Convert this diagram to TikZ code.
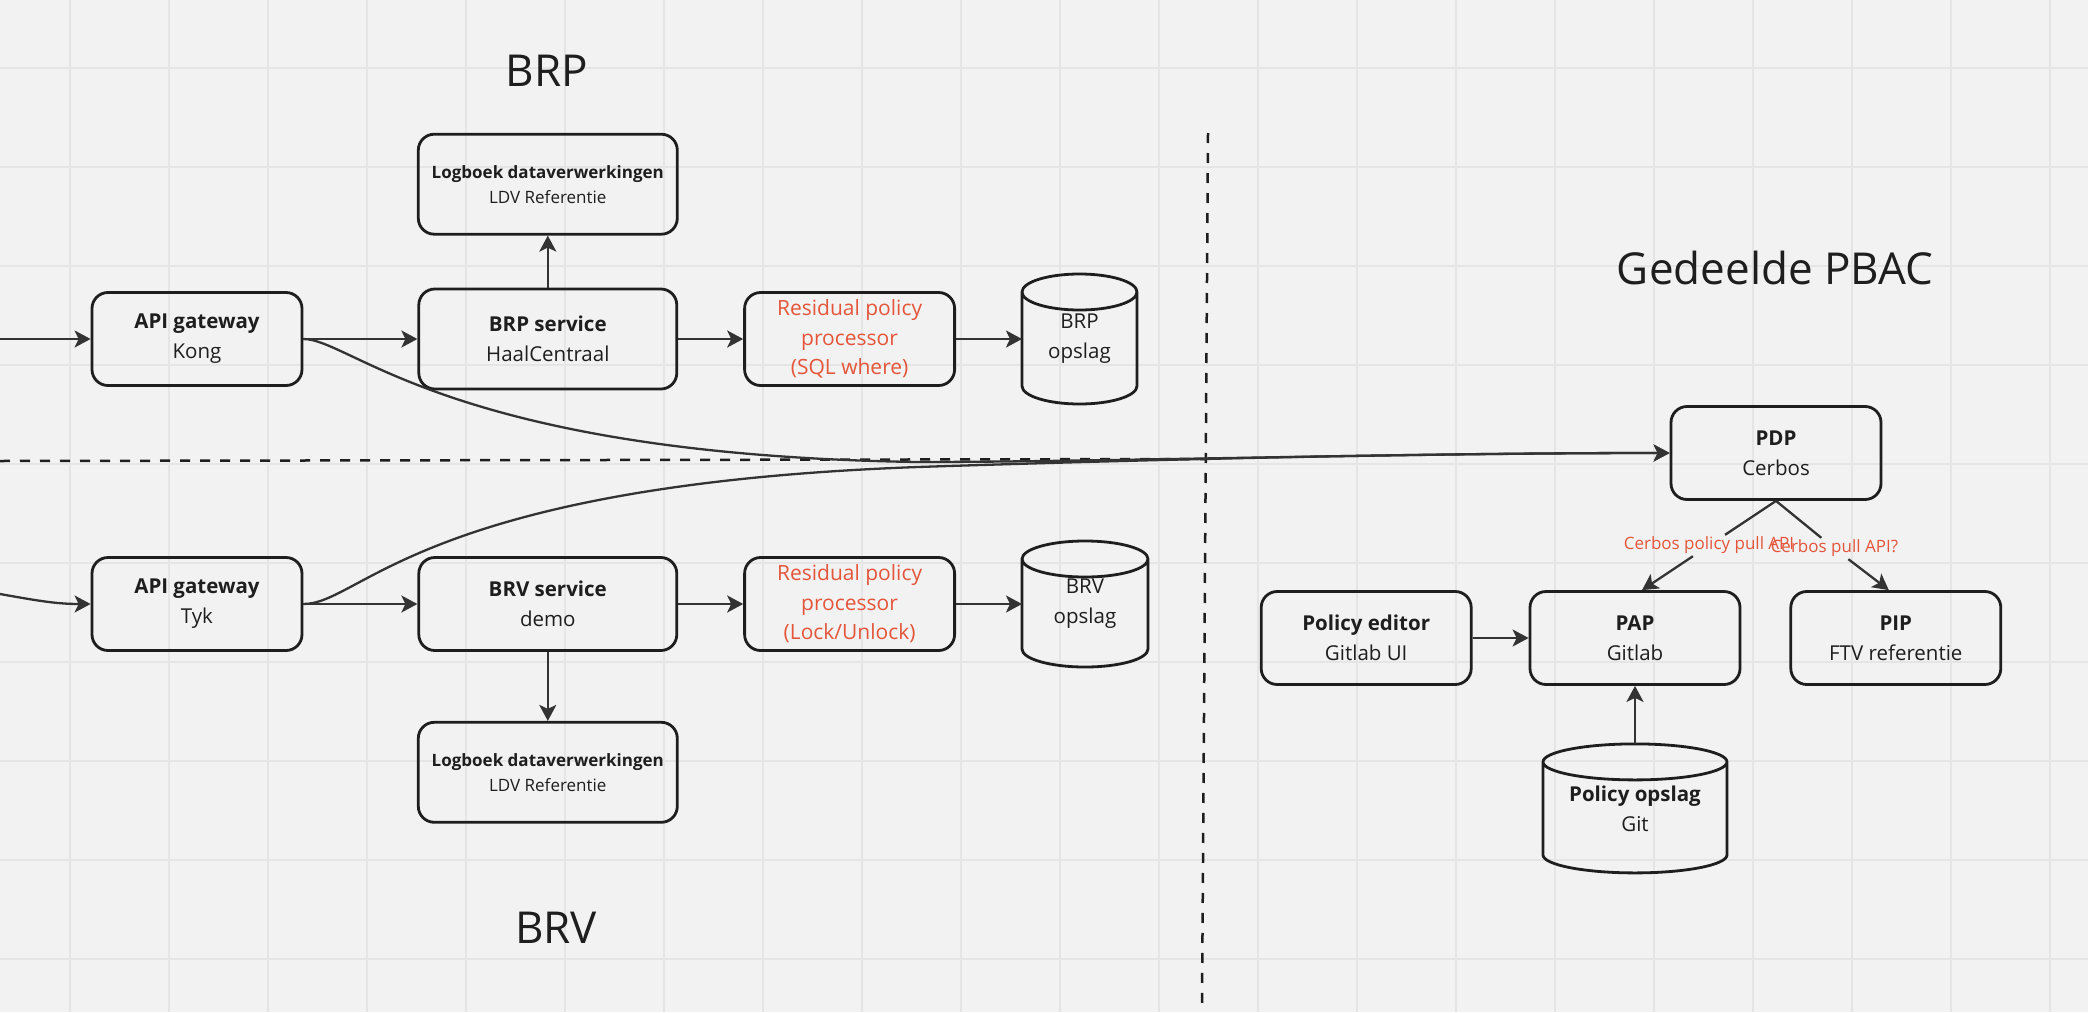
\documentclass[tikz,border=0pt]{standalone}
\usepackage{fontspec}
\setmainfont{Open Sans}
\usetikzlibrary{positioning, arrows.meta, calc}
\definecolor{bg}{HTML}{F2F2F2}
\definecolor{gridline}{HTML}{E5E5E5}
\definecolor{ink}{HTML}{1E1E1E}
\definecolor{wire}{HTML}{333333}
\definecolor{hint}{HTML}{E4553A}
\tikzset{
    block/.style={draw=ink, line width=2.8pt, rounded corners=16pt, minimum width=210pt,
      minimum height=93pt, inner sep=0pt, align=center, text=ink,
      font=\fontsize{20.5}{30}\selectfont},
    logbox/.style={block, minimum width=259pt, minimum height=100pt,
      font=\fontsize{17}{25}\selectfont},
    rpp/.style={block, text=hint, font=\fontsize{21}{29.5}\selectfont},
    store/.style={inner sep=0pt, outer sep=0pt, align=center, text=ink,
      font=\fontsize{20.5}{30}\selectfont},
    store outline/.style={draw=ink, line width=2.8pt, line join=round},
    title/.style={font=\fontsize{44}{50}\selectfont, text=ink},
    hint label/.style={font=\fontsize{17}{20}\selectfont, text=hint, inner sep=2pt},
    divider/.style={draw=ink, line width=2.5pt, dash pattern=on 10pt off 10pt},
    wire line/.style={draw=wire, line width=2.3pt},
    flow/.style={wire line, ->},
}

\begin{document}
\begin{tikzpicture}[x=1pt, y=-1pt, >={Stealth[length=16pt, width=17pt, inset=4pt]}]
    \useasboundingbox (0,0) rectangle (2088,1012);
    \fill[bg] (0,0) rectangle (2088,1012);
    \foreach \x in {70,169,...,2050}
      \draw[gridline, line width=2pt] (\x,0) -- (\x,1012);
    \foreach \y in {68,167,...,1000}
      \draw[gridline, line width=2pt] (0,\y) -- (2088,\y);

    % BRP
    \node[block] (kong) at (197,339) {\textbf{API gateway}\\Kong};
    \node[block, minimum width=258pt, minimum height=100pt, right=114pt of kong] (brpsvc) {\textbf{BRP service}\\HaalCentraal};
    \node[rpp, right=65pt of brpsvc] (brpres) {Residual policy\\processor\\(SQL where)};
    \node[store, minimum width=115pt, minimum height=130pt, right=66pt of brpres] (brpdb) {BRP\\opslag};
    \node[logbox, above=52pt of brpsvc] (brplog) {\textbf{Logboek dataverwerkingen}\\LDV Referentie};

    % BRV
    \node[block] (tyk) at (197,604) {\textbf{API gateway}\\Tyk};
    \node[block, minimum width=258pt, right=114pt of tyk] (brvsvc) {\textbf{BRV service}\\demo};
    \node[rpp, right=65pt of brvsvc] (brvres) {Residual policy\\processor\\(Lock/Unlock)};
    \node[store, minimum width=126pt, minimum height=126pt, right=66pt of brvres] (brvdb) {BRV\\opslag};
    \node[logbox, below=69pt of brvsvc] (brvlog) {\textbf{Logboek dataverwerkingen}\\LDV Referentie};

    % PBAC
    \node[block] (pdp) at (1776,453) {\textbf{PDP}\\Cerbos};
    \node[block] (pap) at (1635,638) {\textbf{PAP}\\Gitlab};
    \node[block, left=56pt of pap] (editor) {\textbf{Policy editor}\\Gitlab UI};
    \node[block, right=48pt of pap] (pip) {\textbf{PIP}\\FTV referentie};
    \node[store, minimum width=184pt, minimum height=129pt, below=58pt of pap] (poldb) {\textbf{Policy opslag}\\Git};

    % cylinder outlines round the store nodes
    \foreach \db in {brpdb, brvdb, poldb}
      \draw[store outline]
        let \p1 = ($(\db.north west)+(0,18)$), \p2 = ($(\db.south west)+(0,-18)$),
            \p3 = ($(\db.north east)+(0,18)$), \n1 = {(\x3-\x1)/2} in
        (\p1) -- (\p2) arc[start angle=180, end angle=360, x radius=\n1, y radius=18pt]
        -- (\p3) arc[start angle=0, end angle=360, x radius=\n1, y radius=18pt];

    \node[title] (brptitle) at (547,71) {BRP};
    \node[title] (brvtitle) at (556,928) {BRV};
    \node[title] (pbactitle) at (1775,268) {Gedeelde PBAC};

    \coordinate (hdivL) at (0,461);
    \coordinate (hdivR) at (1205,459);
    \coordinate (vdivT) at (1208,133);
    \coordinate (vdivB) at (1202,1006);
    \draw[divider] (hdivL) -- (hdivR);
    \draw[divider] (vdivT) -- (vdivB);

    \coordinate (inkong) at (0,339);
    \coordinate (intyk) at (0,594);
    \draw[flow] (inkong) -- (kong);
    \draw[flow] (intyk) to[out=-10, in=180] (tyk);

    \draw[flow] (kong) -- (brpsvc);
    \draw[flow] (brpsvc) -- (brpres);
    \draw[flow] (brpres) -- (brpdb);
    \draw[flow] (brpsvc) -- (brplog);
    \draw[flow] (tyk) -- (brvsvc);
    \draw[flow] (brvsvc) -- (brvres);
    \draw[flow] (brvres) -- (brvdb);
    \draw[flow] (brvsvc) -- (brvlog);

    \draw[flow] (kong.east) .. controls +(48,0) and (450,455) .. (918,462)
      .. controls (1100,462) and (1400,453) .. (pdp.west);
    \draw[flow] (tyk.east) .. controls +(58,0) and (420,485) .. (918,467)
      .. controls (1100,461) and (1400,453) .. (pdp.west);

    \node[hint label] (pull1) at ($(pdp.south)!0.5!([xshift=7pt]pap.north)$) {Cerbos policy pull API};
    \node[hint label] (pull2) at ($(pdp.south)!0.5!([xshift=-7pt]pip.north)+(2,3)$) {Cerbos pull API?};
    \draw[wire line] (pdp.south) -- (pull1);
    \draw[flow] (pull1) -- ([xshift=7pt]pap.north);
    \draw[wire line] (pdp.south) -- (pull2);
    \draw[flow] (pull2) -- ([xshift=-7pt]pip.north);
    \draw[flow] (editor) -- (pap);
    \draw[flow] (poldb) -- (pap);
\end{tikzpicture}
\end{document}
